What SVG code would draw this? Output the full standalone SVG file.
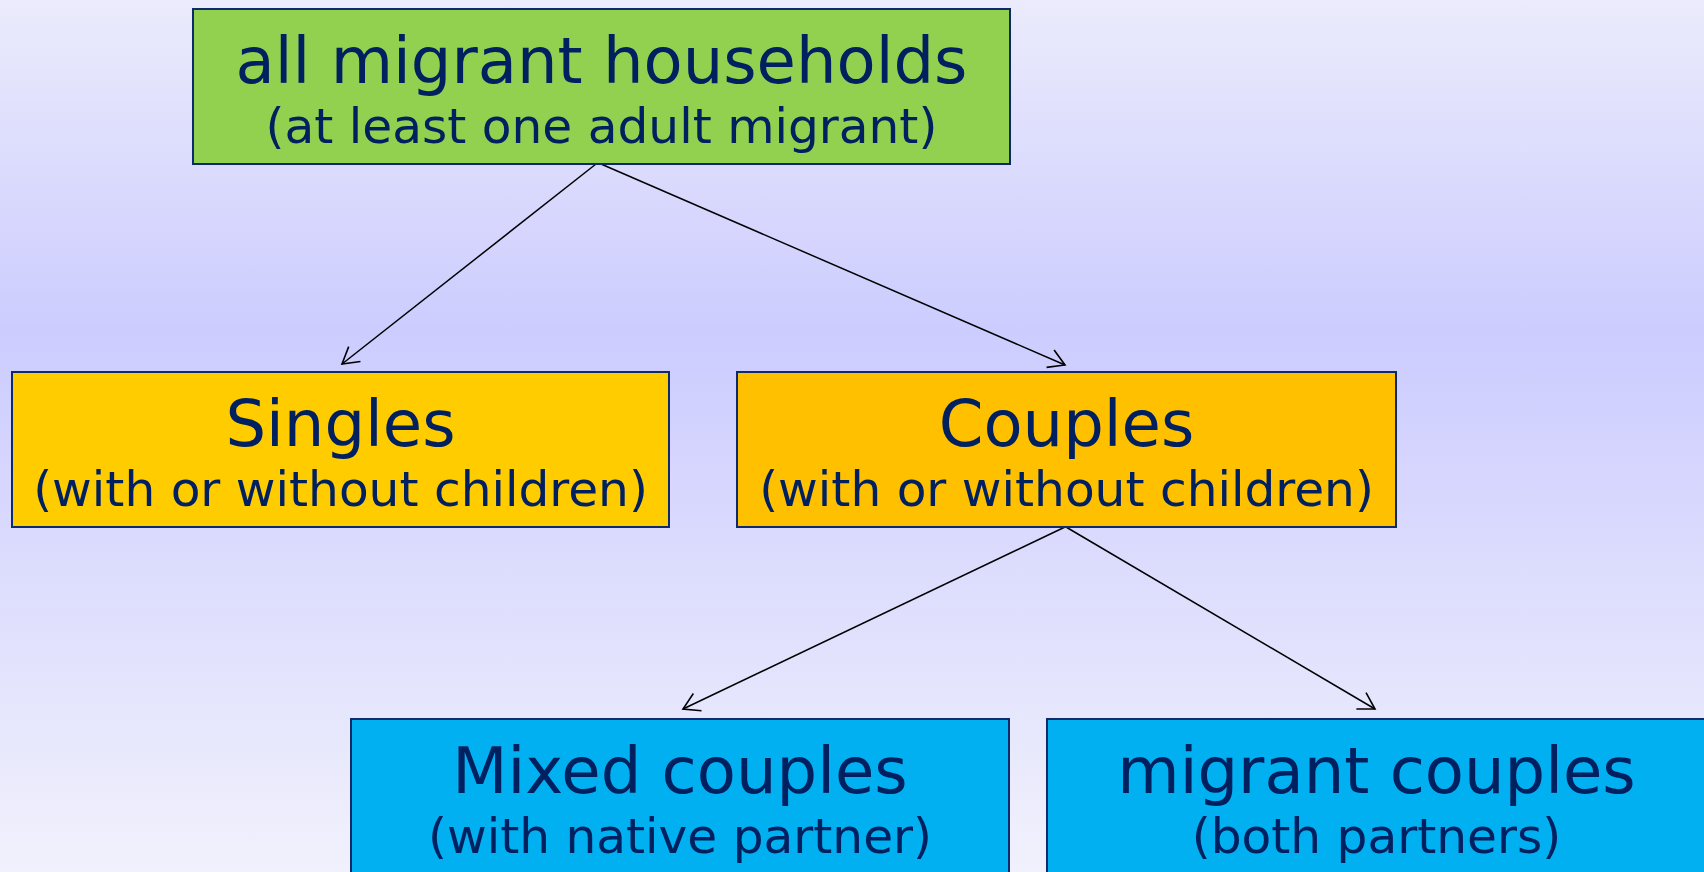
<svg xmlns="http://www.w3.org/2000/svg" width="1704" height="872" viewBox="0 0 1704 872">
<defs>
<linearGradient id="bg" x1="0" y1="0" x2="0" y2="1">
<stop offset="0" stop-color="#EBEBFC"/>
<stop offset="0.38" stop-color="#CCCCFF"/>
<stop offset="1" stop-color="#F1F1FC"/>
</linearGradient>
<marker id="arr" markerUnits="userSpaceOnUse" markerWidth="40" markerHeight="40" refX="0" refY="0" viewBox="-20 -20 40 40" orient="auto" overflow="visible">
<path d="M-16,-9.5 L0,0 L-16,9.5" fill="none" stroke="#000" stroke-width="1.6"/>
</marker>
<style>
.box{stroke:#0F2A6B;stroke-width:2}
.t1{font-family:"DejaVu Sans",Verdana,sans-serif;font-size:64px;fill:#002060;text-anchor:middle}
.t2{font-family:"DejaVu Sans",Verdana,sans-serif;font-size:48.6px;fill:#002060;text-anchor:middle}
.con{stroke:#000;stroke-width:1.5;fill:none;marker-end:url(#arr)}
</style>
</defs>
<rect width="1704" height="872" fill="url(#bg)"/>
<g id="connectors">
<line class="con" x1="596" y1="164" x2="342" y2="364"/>
<line class="con" x1="601" y1="164" x2="1065" y2="365"/>
<line class="con" x1="1065" y1="527" x2="683" y2="709"/>
<line class="con" x1="1066" y1="527" x2="1375" y2="709"/>
</g>
<g id="all-migrant-households">
<rect class="box" x="193" y="9" width="817" height="155" fill="#92D050"/>
<text class="t1" x="601.5" y="83">all migrant households</text>
<text class="t2" x="601.5" y="143">(at least one adult migrant)</text>
</g>
<g id="singles">
<rect class="box" x="12" y="372" width="657" height="155" fill="#FFCC00"/>
<text class="t1" x="340.5" y="446">Singles</text>
<text class="t2" x="340.5" y="506">(with or without children)</text>
</g>
<g id="couples">
<rect class="box" x="737" y="372" width="659" height="155" fill="#FFC000"/>
<text class="t1" x="1066.5" y="446">Couples</text>
<text class="t2" x="1066.5" y="506">(with or without children)</text>
</g>
<g id="mixed-couples">
<rect class="box" x="351" y="719" width="658" height="170" fill="#00B0F0"/>
<text class="t1" x="680" y="793">Mixed couples</text>
<text class="t2" x="680" y="853">(with native partner)</text>
</g>
<g id="migrant-couples">
<rect class="box" x="1047" y="719" width="670" height="170" fill="#00B0F0"/>
<text class="t1" x="1376.5" y="793">migrant couples</text>
<text class="t2" x="1376.5" y="853">(both partners)</text>
</g>
</svg>
